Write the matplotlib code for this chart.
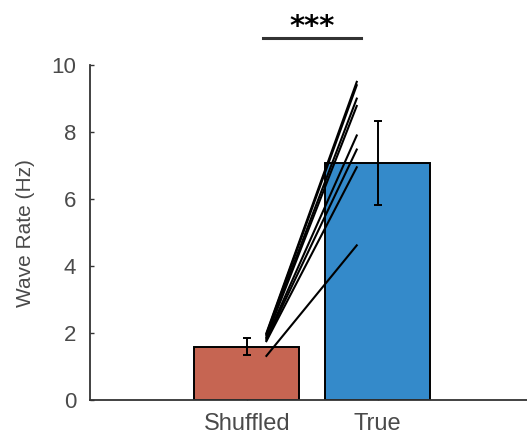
import matplotlib
matplotlib.use('Agg')
import matplotlib.pyplot as plt

# group means and error bars
categories = ['Shuffled', 'True']
means = [1.60, 7.07]
errors = [0.26, 1.25]
barColors = ['#C66552', '#348ACA']

# per-session paired values (shuffled -> true)
shuffledRates = [2.00, 1.97, 1.93, 1.88, 1.84, 1.80, 1.76, 1.32]
trueRates = [9.50, 9.40, 9.00, 8.78, 7.90, 7.48, 6.95, 4.62]

plt.rcParams['font.family'] = ['Liberation Sans', 'DejaVu Sans']
textColor = '#4a4a4a'

fig = plt.figure(figsize=(5.27, 4.34), dpi=100)
ax = fig.add_axes([0.171, 0.078, 0.829, 0.772])

positions = [1, 2]
ax.bar(positions, means, width=0.8, color=barColors, edgecolor='black',
       linewidth=1.4, zorder=2)
ax.errorbar(positions, means, yerr=errors, fmt='none', ecolor='black',
            elinewidth=1.4, capsize=3, capthick=1.4, zorder=4)

for s, t in zip(shuffledRates, trueRates):
    ax.plot([1.15, 1.84], [s, t], color='black', linewidth=1.5, zorder=3)

# significance marker
ax.plot([1.125, 1.87], [10.82, 10.82], color='#333333', linewidth=2.2,
        clip_on=False)
ax.text(1.5, 10.72, '***', ha='center', va='bottom', fontsize=21,
        fontweight='bold', color='black', family='DejaVu Sans')

ax.set_xlim(-0.196, 3.14)
ax.set_ylim(0, 10)
ax.set_xticks(positions)
ax.set_xticklabels(categories)
ax.set_yticks([0, 2, 4, 6, 8, 10])
ax.set_ylabel('Wave Rate (Hz)', fontsize=15, color=textColor, labelpad=12)

ax.spines['top'].set_visible(False)
ax.spines['right'].set_visible(False)
for side in ['left', 'bottom']:
    ax.spines[side].set_color('#333333')
    ax.spines[side].set_linewidth(1.3)
ax.tick_params(direction='in', length=3, width=1, colors='#333333',
               labelcolor=textColor)
ax.tick_params(axis='y', labelsize=16, pad=10)
ax.tick_params(axis='x', labelsize=17, pad=9)

plt.savefig('out.png', dpi=100)
plt.close()
